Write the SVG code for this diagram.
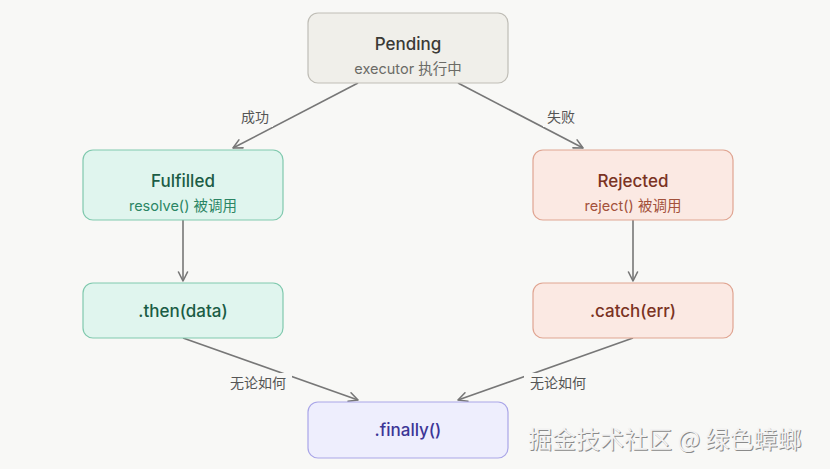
<svg xmlns="http://www.w3.org/2000/svg" width="830" height="469" viewBox="0 0 830 469">
<defs>
<style>
.t{font-family:Inter,"Noto Sans CJK SC",sans-serif;text-anchor:middle}
.ti{font-size:17px;font-weight:500}
.sub{font-size:14.5px}
.lbl{font-family:"Noto Sans CJK SC",sans-serif;font-size:14px;fill:#555;text-anchor:middle}
.edge{stroke:#777;stroke-width:1.6;fill:none}
.head{stroke:#777;stroke-width:1.6;fill:none;stroke-linecap:round;stroke-linejoin:round}
.gap{fill:#f8f8f6}
.n-pend{fill:#f0efea;stroke:#bfbdb6;stroke-width:1.2}
.n-ok{fill:#e0f5ee;stroke:#80c9ae;stroke-width:1.2}
.n-err{fill:#fbe9e3;stroke:#e0a592;stroke-width:1.2}
.n-fin{fill:#eeeefd;stroke:#aaa6e8;stroke-width:1.2}
</style>
<marker id="arr" viewBox="0 0 12 12" refX="11" refY="6" markerWidth="12" markerHeight="12" markerUnits="userSpaceOnUse" orient="auto">
<path d="M2,1.5 L11,6 L2,10.5" class="head"/>
</marker>
</defs>
<rect width="830" height="469" fill="#f8f8f6"/>
<g id="connectors">
<line class="edge" x1="358" y1="83" x2="233" y2="148" marker-end="url(#arr)"/>
<line class="edge" x1="458" y1="83" x2="583" y2="148" marker-end="url(#arr)"/>
<line class="edge" x1="183" y1="220" x2="183" y2="281" marker-end="url(#arr)"/>
<line class="edge" x1="633" y1="220" x2="633" y2="281" marker-end="url(#arr)"/>
<line class="edge" x1="183" y1="338" x2="358" y2="400" marker-end="url(#arr)"/>
<line class="edge" x1="633" y1="338" x2="458" y2="400" marker-end="url(#arr)"/>
<rect class="gap" x="237" y="106" width="36" height="21"/>
<text class="lbl" x="255" y="122">成功</text>
<rect class="gap" x="543" y="106" width="36" height="21"/>
<text class="lbl" x="561" y="122">失败</text>
<rect class="gap" x="224" y="373" width="68" height="20"/>
<text class="lbl" x="258" y="388">无论如何</text>
<rect class="gap" x="524" y="373" width="68" height="20"/>
<text class="lbl" x="558" y="388">无论如何</text>
</g>
<g id="pending">
<rect class="n-pend" x="308" y="13" width="200" height="70" rx="10"/>
<text class="t ti" x="408" y="50" fill="#3a3a36">Pending</text>
<text class="t sub" x="408" y="74" fill="#6b6b66">executor 执行中</text>
</g>
<g id="fulfilled">
<rect class="n-ok" x="83" y="150" width="200" height="70" rx="10"/>
<text class="t ti" x="183" y="187" fill="#1b5c45">Fulfilled</text>
<text class="t sub" x="183" y="211" fill="#2b8564">resolve() 被调用</text>
</g>
<g id="rejected">
<rect class="n-err" x="533" y="150" width="200" height="70" rx="10"/>
<text class="t ti" x="633" y="187" fill="#7a3323">Rejected</text>
<text class="t sub" x="633" y="211" fill="#a3513b">reject() 被调用</text>
</g>
<g id="then">
<rect class="n-ok" x="83" y="283" width="200" height="55" rx="10"/>
<text class="t ti" x="183" y="317" fill="#1b5c45">.then(data)</text>
</g>
<g id="catch">
<rect class="n-err" x="533" y="283" width="200" height="55" rx="10"/>
<text class="t ti" x="633" y="317" fill="#7a3323">.catch(err)</text>
</g>
<g id="finally">
<rect class="n-fin" x="308" y="402" width="200" height="56" rx="10"/>
<text class="t ti" x="408" y="436" fill="#3c3596">.finally()</text>
</g>
<g id="watermark" font-family="'Noto Sans CJK SC',sans-serif" font-size="24">
<text x="529" y="449" fill="#8a8a8a">掘金技术社区 @ 绿色蟑螂</text>
<text x="528" y="448" fill="#f2f2f2">掘金技术社区 @ 绿色蟑螂</text>
</g>
</svg>
